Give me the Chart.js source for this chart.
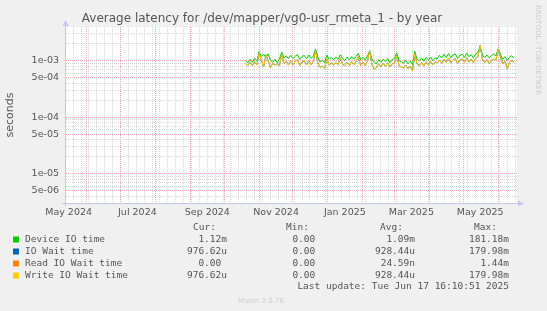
<!DOCTYPE html>
<html>
<head>
<meta charset="utf-8">
<script src="https://cdn.jsdelivr.net/npm/chart.js@4.4.1/dist/chart.umd.min.js"></script>
<style>
  html, body { margin: 0; padding: 0; background: #f0f0f0; }
  #wrap { width: 547px; height: 311px; }
</style>
</head>
<body>
<div id="wrap"><canvas id="grafico" width="547" height="311"></canvas></div>
<script>
// amostras a cada 2 dias a partir de 20/10/2024, valores em ms
const inicioAmostras = Date.UTC(2024, 9, 20);
const passoDias = 2;

const deviceIoMs = [
    1.00, 0.92, 1.06, 0.94, 1.10, 0.98, 1.45, 1.18, 1.30, 1.12,
    1.32, 1.02, 0.94, 1.04, 0.92, 1.08, 1.42, 1.12, 1.22, 1.08,
    1.24, 1.10, 1.20, 1.28, 1.06, 1.18, 1.24, 1.08, 1.26, 1.10,
    1.20, 1.62, 1.16, 0.95, 1.02, 0.92, 1.26, 1.06, 1.14, 1.04,
    1.16, 1.06, 1.28, 1.08, 1.00, 1.16, 1.04, 1.18, 1.06, 1.20,
    1.34, 1.04, 1.16, 1.02, 1.20, 1.48, 1.08, 0.94, 0.88, 1.04,
    0.94, 1.06, 0.96, 1.10, 0.92, 1.04, 1.10, 1.38, 1.02, 0.96,
    0.90, 1.02, 0.88, 0.98, 0.86, 1.46, 1.06, 1.00, 1.12, 0.98,
    1.14, 1.02, 1.16, 1.00, 1.12, 1.08, 1.24, 1.12, 1.30, 1.14,
    1.34, 1.12, 1.26, 1.32, 1.10, 1.24, 1.30, 1.14, 1.36, 1.18,
    1.28, 1.12, 1.32, 1.38, 1.85, 1.26, 1.14, 1.26, 1.12, 1.24,
    1.30, 1.22, 1.62, 1.30, 1.06, 1.18, 1.02, 1.14, 1.22, 1.12
];

// IO Wait e Write IO Wait são iguais (mesmos cur/avg/max)
const writeIoMs = [
    0.88, 0.82, 0.94, 0.82, 0.96, 0.84, 1.40, 1.00, 0.78, 1.28,
    0.98, 0.76, 0.90, 0.84, 0.88, 0.82, 1.32, 0.90, 0.98, 0.84,
    1.00, 0.84, 0.98, 1.04, 0.82, 0.94, 1.00, 0.84, 1.02, 0.84,
    0.96, 1.52, 0.92, 0.76, 0.80, 0.74, 1.08, 0.84, 0.90, 0.86,
    0.92, 0.86, 1.12, 0.86, 0.82, 0.94, 0.82, 0.96, 0.84, 0.98,
    1.18, 0.82, 0.94, 0.82, 0.98, 1.52, 0.86, 0.70, 0.76, 0.88,
    0.78, 0.90, 0.80, 0.92, 0.78, 0.88, 0.92, 1.22, 0.82, 0.78,
    0.74, 0.84, 0.72, 0.80, 0.66, 1.32, 0.88, 0.82, 0.94, 0.80,
    0.96, 0.84, 0.98, 0.84, 0.94, 0.92, 1.02, 0.90, 1.06, 0.94,
    1.12, 0.92, 1.04, 1.08, 0.90, 1.02, 1.08, 0.94, 1.14, 0.96,
    1.06, 0.92, 1.10, 1.18, 1.85, 1.06, 0.92, 1.04, 0.90, 1.00,
    1.06, 1.04, 1.58, 1.16, 0.88, 0.98, 0.72, 0.94, 1.00, 0.94
];
const ioWaitMs = writeIoMs;

const readIoMs = [
    0, 0, 0, 0, 0, 0, 0, 0, 0, 0,
    0, 0, 0, 0, 0, 0, 0, 0, 0, 0,
    0, 0, 0, 0, 0, 0, 0, 0, 0, 0,
    0, 0, 0, 0, 0, 0, 0, 0, 0, 0,
    0, 0, 0, 0, 0, 0, 0, 0, 0, 0,
    0, 0, 0, 0, 0, 0, 0, 0, 0, 0,
    0, 0, 0, 0, 0, 0, 0, 0, 0, 0.0059,
    0, 0, 0, 0, 0, 0, 0, 0, 0, 0,
    0, 0, 0, 0, 0, 0, 0, 0, 0, 0,
    0, 0, 0, 0, 0, 0, 0, 0, 0, 0,
    0, 0, 0, 0, 0, 0, 0, 0, 0, 0,
    0, 0, 0, 0, 0, 0, 0, 0, 0, 0
];

// legenda
const nomesSeries = ['Device IO time', 'IO Wait time', 'Read IO Wait time', 'Write IO Wait time'];
const valoresCur = ['1.12m', '976.62u', '0.00 ', '976.62u'];
const valoresMin = ['0.00 ', '0.00 ', '0.00 ', '0.00 '];
const valoresAvg = ['1.09m', '928.44u', '24.59n', '928.44u'];
const valoresMax = ['181.18m', '179.98m', '1.44m', '179.98m'];
const ultimaAtualizacao = 'Last update: Tue Jun 17 16:10:51 2025';

// eixos
const xInicio = Date.UTC(2024, 4, 13, 16, 10);
const xFim = Date.UTC(2025, 5, 17, 16, 10);
const yMinimo = 3.06e-6;
const yMaximo = 3.94e-3;
const yRotulosValores = [5e-6, 1e-5, 5e-5, 1e-4, 5e-4, 1e-3];
const yRotulos = ['5e-06', '1e-05', '5e-05', '1e-04', '5e-04', '1e-03'];
const xRotulosDatas = [Date.UTC(2024, 4, 16), Date.UTC(2024, 6, 16), Date.UTC(2024, 8, 16),
    Date.UTC(2024, 10, 16), Date.UTC(2025, 0, 16), Date.UTC(2025, 2, 16), Date.UTC(2025, 4, 16)];
const xRotulos = ['May 2024', 'Jul 2024', 'Sep 2024', 'Nov 2024', 'Jan 2025', 'Mar 2025', 'May 2025'];

const cores = ['#00cc00', '#0066b3', '#ff8000', '#ffcc00'];
const corTexto = '#555555';
const corGradeMaior = 'rgba(230, 135, 135, 0.7)';
const corGradeMenor = 'rgba(195, 195, 195, 0.65)';
const DIA = 86400000;

function serie(valoresMs) {
    return valoresMs.map((v, i) => ({ x: inicioAmostras + i * passoDias * DIA, y: v / 1000 }));
}

// ticks do eixo x: início de mês (vermelho), semanas (cinza), rótulos no meio do mês
const xTicks = [];
for (let t = Date.UTC(2024, 4, 20); t < xFim; t += 7 * DIA) xTicks.push({ value: t, tipo: 'semana' });
for (let k = 0; k < 15; k++) {
    const t = Date.UTC(2024, 4 + k, 1);
    if (t > xInicio && t < xFim) xTicks.push({ value: t, tipo: 'mes' });
}
xRotulosDatas.forEach((t, i) => xTicks.push({ value: t, tipo: 'rotulo', texto: xRotulos[i] }));
xTicks.sort((a, b) => a.value - b.value);

// ticks do eixo y: 1..9 por década
const yTicks = [];
for (let e = -6; e <= -3; e++) {
    for (let m = 1; m <= 9; m++) {
        const v = m * Math.pow(10, e);
        if (v < yMinimo || v > yMaximo) continue;
        const idx = yRotulosValores.findIndex(r => Math.abs(r - v) / v < 1e-6);
        yTicks.push({ value: v, maior: m === 1 || m === 5, texto: idx >= 0 ? yRotulos[idx] : '' });
    }
}

const fundoEDecoracao = {
    id: 'fundoEDecoracao',
    beforeDraw(chart) {
        const { ctx, chartArea: a } = chart;
        ctx.save();
        ctx.fillStyle = '#f0f0f0';
        ctx.fillRect(0, 0, chart.width, chart.height);
        ctx.fillStyle = '#ffffff';
        ctx.fillRect(a.left, a.top, a.right - a.left, a.bottom - a.top);
        ctx.restore();
    },
    afterDraw(chart) {
        const { ctx, chartArea: a } = chart;
        ctx.save();
        // eixos e setas
        ctx.strokeStyle = '#c4c4ee';
        ctx.fillStyle = '#c4c4ee';
        ctx.lineWidth = 1;
        ctx.beginPath();
        ctx.moveTo(a.left - 0.5, a.bottom + 3);
        ctx.lineTo(a.left - 0.5, a.top - 3);
        ctx.moveTo(a.left - 4, a.bottom + 0.5);
        ctx.lineTo(a.right + 3, a.bottom + 0.5);
        ctx.stroke();
        ctx.beginPath();
        ctx.moveTo(a.left - 0.5, a.top - 7);
        ctx.lineTo(a.left - 3.5, a.top - 1);
        ctx.lineTo(a.left + 2.5, a.top - 1);
        ctx.fill();
        ctx.beginPath();
        ctx.moveTo(a.right + 7, a.bottom + 0.5);
        ctx.lineTo(a.right + 1, a.bottom - 2.5);
        ctx.lineTo(a.right + 1, a.bottom + 3.5);
        ctx.fill();

        // título
        ctx.fillStyle = corTexto;
        ctx.font = '12px "DejaVu Sans"';
        ctx.textAlign = 'center';
        ctx.textBaseline = 'middle';
        ctx.fillText('Average latency for /dev/mapper/vg0-usr_rmeta_1 - by year', 262, 19);

        // legenda
        ctx.font = '9.5px "DejaVu Sans Mono"';
        ctx.textAlign = 'right';
        ctx.fillText('Cur:', 216, 228);
        ctx.fillText('Min:', 309, 228);
        ctx.fillText('Avg:', 403, 228);
        ctx.fillText('Max:', 497, 228);
        nomesSeries.forEach((nome, i) => {
            const y = 239.5 + i * 12;
            ctx.fillStyle = cores[i];
            ctx.fillRect(13, y - 3, 6, 6);
            ctx.fillStyle = corTexto;
            ctx.textAlign = 'left';
            ctx.fillText(nome, 25, y);
            ctx.textAlign = 'right';
            ctx.fillText(valoresCur[i], 227, y);
            ctx.fillText(valoresMin[i], 321, y);
            ctx.fillText(valoresAvg[i], 415, y);
            ctx.fillText(valoresMax[i], 509, y);
        });
        ctx.fillText(ultimaAtualizacao, 509, 287);

        ctx.fillStyle = '#cccccc';
        ctx.textAlign = 'center';
        ctx.font = '7px "DejaVu Sans"';
        ctx.fillText('Munin 2.0.76', 261, 301);

        ctx.translate(538, 5);
        ctx.rotate(Math.PI / 2);
        ctx.textAlign = 'left';
        ctx.fillText('RRDTOOL / TOBI OETIKER', 0, 0);
        ctx.restore();
    }
};

new Chart(document.getElementById('grafico'), {
    type: 'line',
    data: {
        datasets: [
            { label: nomesSeries[0], data: serie(deviceIoMs), borderColor: cores[0], order: 4 },
            { label: nomesSeries[1], data: serie(ioWaitMs), borderColor: cores[1], order: 3 },
            { label: nomesSeries[2], data: serie(readIoMs), borderColor: cores[2], order: 2 },
            { label: nomesSeries[3], data: serie(writeIoMs), borderColor: cores[3], order: 1 }
        ]
    },
    options: {
        responsive: false,
        animation: false,
        devicePixelRatio: 1,
        layout: { padding: { left: 0, top: 27, right: 30, bottom: 0 } },
        elements: {
            line: { borderWidth: 1, tension: 0, fill: false },
            point: { radius: 0 }
        },
        plugins: { legend: { display: false }, tooltip: { enabled: false } },
        scales: {
            x: {
                type: 'linear',
                min: xInicio,
                max: xFim,
                afterBuildTicks: (eixo) => { eixo.ticks = xTicks.map(t => ({ value: t.value })); },
                afterFit: (eixo) => { eixo.height = 108; },
                ticks: {
                    autoSkip: false,
                    maxRotation: 0,
                    minRotation: 0,
                    padding: 4,
                    color: corTexto,
                    font: { family: 'DejaVu Sans', size: 9.5 },
                    callback: (v, i) => xTicks[i] && xTicks[i].texto ? xTicks[i].texto : ''
                },
                grid: {
                    drawTicks: false,
                    lineWidth: 1,
                    color: (c) => {
                        const t = xTicks[c.index];
                        if (!t) return 'transparent';
                        if (t.tipo === 'mes') return corGradeMaior;
                        if (t.tipo === 'semana') return corGradeMenor;
                        return 'transparent';
                    }
                },
                border: { display: false, dash: [1, 1] }
            },
            y: {
                type: 'logarithmic',
                min: yMinimo,
                max: yMaximo,
                afterBuildTicks: (eixo) => { eixo.ticks = yTicks.map(t => ({ value: t.value })); },
                afterFit: (eixo) => { eixo.width = 66; },
                title: {
                    display: true,
                    text: 'seconds',
                    color: corTexto,
                    font: { family: 'DejaVu Sans', size: 11 }
                },
                ticks: {
                    autoSkip: false,
                    padding: 7,
                    color: corTexto,
                    font: { family: 'DejaVu Sans', size: 9.5 },
                    callback: (v, i) => yTicks[i] ? yTicks[i].texto : ''
                },
                grid: {
                    drawTicks: false,
                    lineWidth: 1,
                    color: (c) => {
                        const t = yTicks[c.index];
                        if (!t) return 'transparent';
                        return t.maior ? corGradeMaior : corGradeMenor;
                    }
                },
                border: { display: false, dash: [1, 1] }
            }
        }
    },
    plugins: [fundoEDecoracao]
});
</script>
</body>
</html>
